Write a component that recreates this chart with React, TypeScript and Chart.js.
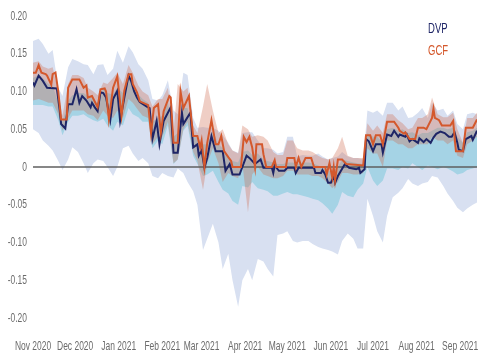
import React, { useEffect, useRef } from 'react';
import { Chart, registerables } from 'chart.js';

Chart.register(...registerables);

// X axis: days since 1 Nov 2020
const monthStartDays = [0, 30, 61, 92, 120, 151, 181, 212, 242, 273, 304];
const monthLabels = ['Nov 2020', 'Dec 2020', 'Jan 2021', 'Feb 2021', 'Mar 2021', 'Apr 2021', 'May 2021', 'Jun 2021', 'Jul 2021', 'Aug 2021', 'Sep 2021'];
const yTickValues = [0.2, 0.15, 0.1, 0.05, 0, -0.05, -0.1, -0.15, -0.2];
const yTickLabels = ['0.20', '0.15', '0.10', '0.05', '0', '-0.05', '-0.10', '-0.15', '-0.20'];
const legendLabels = ['DVP', 'GCF'];

// Band sampling days
const bandDays = [
  0, 4, 7, 11, 14, 18, 21, 25, 28, 32,
  36, 39, 43, 46, 50, 53, 57, 60, 64, 68,
  71, 75, 78, 82, 85, 89, 92, 96, 100, 103,
  107, 110, 114, 117, 121, 124, 128, 132, 135, 139,
  142, 146, 149, 153, 156, 160, 164, 167, 171, 174,
  178, 181, 185, 188, 192, 196, 199, 203, 206, 210,
  213, 217, 220, 224, 228, 231, 235, 238, 242, 245,
  249, 252, 256, 260, 263, 267, 270, 274, 277, 281,
  284, 288, 292, 295, 299, 302, 306, 309, 313, 316,
];

// Wide light band (range)
const lightHigh = [
  0.167, 0.17, 0.163, 0.15, 0.155, 0.105, 0.094, 0.132, 0.143, 0.14,
  0.136, 0.135, 0.123, 0.135, 0.136, 0.122, 0.13, 0.154, 0.138, 0.16,
  0.152, 0.136, 0.13, 0.115, 0.09, 0.088, 0.095, 0.115, 0.075, 0.07,
  0.125, 0.122, 0.065, 0.052, 0.053, 0.052, 0.052, 0.048, 0.042, 0.032,
  0.022, 0.019, 0.045, 0.046, 0.046, 0.035, 0.025, 0.025, 0.023, 0.018,
  0.02, 0.04, 0.04, 0.014, 0.016, 0.015, 0.015, 0.018, 0.014, 0.01,
  0.012, 0.014, 0.02, 0.014, 0.012, 0.012, 0.01, 0.075, 0.072, 0.075,
  0.068, 0.085, 0.085, 0.075, 0.08, 0.065, 0.066, 0.072, 0.078, 0.065,
  0.085, 0.075, 0.077, 0.068, 0.075, 0.057, 0.05, 0.07, 0.072, 0.07,
];
const lightLow = [
  0.05, 0.045, 0.035, 0.028, 0.022, 0.008, -0.004, 0.01, 0.026, 0.02,
  0.005, -0.008, 0.005, 0.01, 0.008, 0, -0.012, 0, 0.025, 0.028,
  0.018, 0.008, 0.012, 0.005, -0.012, -0.015, -0.008, -0.012, -0.014, -0.002,
  -0.008, -0.02, -0.032, -0.05, -0.11, -0.095, -0.075, -0.1, -0.135, -0.115,
  -0.15, -0.185, -0.15, -0.135, -0.15, -0.122, -0.125, -0.135, -0.145, -0.09,
  -0.088, -0.085, -0.098, -0.1, -0.098, -0.098, -0.102, -0.106, -0.108, -0.11,
  -0.112, -0.116, -0.098, -0.088, -0.095, -0.108, -0.108, -0.042, -0.065, -0.085,
  -0.1, -0.065, -0.04, -0.034, -0.028, -0.016, -0.022, -0.025, -0.022, -0.02,
  -0.012, -0.014, -0.025, -0.035, -0.045, -0.054, -0.06, -0.055, -0.05, -0.047,
];

// DVP inner (teal) band
const tealHigh = [
  0.118, 0.122, 0.118, 0.11, 0.108, 0.085, 0.06, 0.088, 0.095, 0.098,
  0.098, 0.094, 0.09, 0.085, 0.104, 0.098, 0.096, 0.105, 0.098, 0.124,
  0.112, 0.096, 0.09, 0.085, 0.06, 0.065, 0.068, 0.085, 0.04, 0.045,
  0.078, 0.078, 0.045, 0.038, 0.03, 0.03, 0.048, 0.03, 0.025, 0.012,
  0.008, 0.006, 0.02, 0.022, 0.016, 0.018, 0.01, 0.008, 0.006, 0.004,
  0.004, 0.006, 0.006, 0.004, 0.006, 0.006, 0.005, 0.002, 0, -0.006,
  -0.004, 0, 0.01, 0.008, 0.006, 0.005, 0.004, 0.045, 0.04, 0.04,
  0.032, 0.05, 0.052, 0.048, 0.05, 0.045, 0.046, 0.042, 0.045, 0.045,
  0.048, 0.052, 0.052, 0.05, 0.052, 0.04, 0.032, 0.046, 0.048, 0.052,
];
const tealLow = [
  0.082, 0.082, 0.082, 0.08, 0.08, 0.062, 0.042, 0.06, 0.068, 0.068,
  0.07, 0.066, 0.062, 0.06, 0.064, 0.055, 0.048, 0.06, 0.055, 0.078,
  0.07, 0.066, 0.06, 0.06, 0.025, 0.035, 0.03, 0.055, 0.004, 0.01,
  0.048, 0.055, 0.015, 0.004, -0.012, -0.01, -0.005, -0.02, -0.03, -0.035,
  -0.045, -0.05, -0.025, -0.027, -0.02, -0.028, -0.03, -0.032, -0.038, -0.038,
  -0.035, -0.033, -0.036, -0.036, -0.038, -0.04, -0.042, -0.044, -0.048, -0.055,
  -0.062, -0.05, -0.033, -0.038, -0.04, -0.03, -0.022, 0, -0.018, -0.025,
  -0.018, -0.002, -0.002, -0.004, 0, -0.002, 0.005, 0, -0.004, 0.002,
  0, -0.003, 0, -0.002, -0.006, -0.01, -0.008, -0.004, -0.002, 0,
];

// GCF (pink) band
const pinkHigh = [
  0.138, 0.14, 0.133, 0.13, 0.132, 0.1, 0.068, 0.11, 0.122, 0.122,
  0.118, 0.105, 0.1, 0.095, 0.112, 0.11, 0.118, 0.125, 0.11, 0.135,
  0.125, 0.108, 0.1, 0.095, 0.08, 0.09, 0.09, 0.105, 0.045, 0.11,
  0.1, 0.105, 0.055, 0.045, 0.08, 0.11, 0.075, 0.045, 0.05, 0.03,
  0.022, 0.018, 0.055, 0.05, 0.04, 0.042, 0.04, 0.035, 0.02, 0.016,
  0.016, 0.035, 0.035, 0.025, 0.022, 0.022, 0.02, 0.015, 0.012, 0.01,
  0.012, 0.025, 0.04, 0.015, 0.012, 0.012, 0.012, 0.058, 0.048, 0.055,
  0.045, 0.07, 0.07, 0.062, 0.058, 0.05, 0.052, 0.065, 0.065, 0.07,
  0.092, 0.07, 0.066, 0.066, 0.072, 0.05, 0.032, 0.065, 0.065, 0.072,
];
const pinkLow = [
  0.088, 0.09, 0.088, 0.085, 0.085, 0.07, 0.048, 0.065, 0.075, 0.075,
  0.075, 0.07, 0.068, 0.062, 0.075, 0.068, 0.065, 0.075, 0.065, 0.09,
  0.085, 0.075, 0.068, 0.065, 0.03, 0.04, 0.04, 0.06, 0.005, 0.01,
  0.05, 0.06, 0.02, 0.008, -0.03, 0.005, 0.025, 0.005, -0.02, -0.008,
  -0.012, -0.015, 0.005, -0.06, -0.01, 0, -0.01, -0.012, -0.015, -0.015,
  -0.012, -0.005, -0.005, -0.01, -0.01, -0.01, -0.012, -0.012, -0.015, -0.022,
  -0.028, -0.02, -0.008, -0.008, -0.01, -0.01, -0.008, 0.025, 0.018, 0.018,
  0, 0.035, 0.035, 0.03, 0.03, 0.025, 0.025, 0.03, 0.03, 0.03,
  0.04, 0.035, 0.035, 0.03, 0.035, 0.015, 0.012, 0.03, 0.035, 0.04,
];

// DVP line
const dvpDays = [
  0, 1, 4, 7, 10, 17, 19, 20, 23, 25, 28, 31, 33, 35, 38, 41, 42, 44, 46, 48,
  50, 52, 55, 57, 60, 62, 65, 68, 70, 72, 74, 76, 81, 83, 85, 88, 90, 93, 98, 100,
  103, 106, 107, 112, 114, 117, 118, 120, 122, 124, 127, 130, 135, 137, 140, 142, 147, 152, 154, 158,
  162, 164, 170, 171, 172, 175, 179, 181, 186, 187, 189, 200, 201, 205, 206, 208, 210, 212, 214, 215,
  217, 222, 225, 230, 232, 233, 236, 237, 239, 242, 244, 248, 249, 252, 255, 257, 260, 261, 265, 266,
  268, 270, 274, 275, 278, 280, 283, 285, 287, 290, 293, 296, 298, 300, 302, 303, 306, 308, 312, 313,
  316,
];
const dvpValues = [
  0.112, 0.108, 0.121, 0.114, 0.105, 0.104, 0.075, 0.057, 0.051, 0.083, 0.083, 0.103, 0.085, 0.094, 0.088, 0.079, 0.085, 0.079, 0.074, 0.099,
  0.098, 0.092, 0.062, 0.09, 0.101, 0.061, 0.092, 0.121, 0.113, 0.1, 0.092, 0.086, 0.08, 0.078, 0.037, 0.061, 0.03, 0.061, 0.079, 0.019,
  0.019, 0.072, 0.057, 0.072, 0.026, 0.03, 0.015, 0.022, -0.001, 0.012, 0.041, 0.021, 0.021, -0.005, 0.004, -0.01, -0.01, 0.015, 0.012, 0.004,
  0.01, -0.001, -0.001, -0.008, 0.002, -0.005, -0.005, -0.001, -0.001, -0.008, -0.001, -0.001, -0.008, -0.008, -0.004, -0.01, -0.021, -0.021, -0.012, -0.021,
  -0.012, 0.004, -0.001, -0.003, -0.001, -0.008, -0.003, 0.037, 0.034, 0.021, 0.03, 0.03, 0.019, 0.043, 0.041, 0.048, 0.04, 0.043, 0.04, 0.043,
  0.034, 0.037, 0.032, 0.038, 0.033, 0.037, 0.032, 0.039, 0.044, 0.047, 0.045, 0.04, 0.04, 0.046, 0.032, 0.023, 0.021, 0.037, 0.041, 0.036,
  0.048,
];

// GCF line
const gcfDays = [
  0, 2, 4, 6, 9, 10, 13, 14, 16, 18, 20, 24, 25, 28, 33, 36, 38, 39, 42, 46,
  48, 51, 52, 54, 57, 60, 63, 65, 68, 70, 71, 74, 76, 82, 84, 86, 89, 91, 93, 97,
  98, 100, 103, 105, 107, 111, 114, 117, 119, 120, 122, 124, 127, 130, 132, 134, 136, 139, 141, 142,
  148, 150, 152, 154, 156, 158, 159, 163, 164, 166, 170, 172, 173, 180, 181, 186, 187, 189, 191, 194,
  198, 200, 208, 209, 211, 213, 214, 215, 217, 220, 223, 235, 237, 240, 242, 244, 247, 249, 252, 257,
  260, 261, 264, 265, 268, 272, 274, 278, 280, 284, 285, 286, 289, 291, 297, 299, 301, 306, 308, 313,
  316,
];
const gcfValues = [
  0.125, 0.125, 0.135, 0.125, 0.123, 0.121, 0.109, 0.123, 0.125, 0.1, 0.063, 0.063, 0.105, 0.116, 0.116, 0.105, 0.108, 0.092, 0.094, 0.079,
  0.103, 0.104, 0.1, 0.063, 0.105, 0.12, 0.068, 0.101, 0.123, 0.123, 0.11, 0.099, 0.087, 0.082, 0.045, 0.078, 0.083, 0.045, 0.074, 0.094,
  0.092, 0.032, 0.032, 0.1, 0.078, 0.094, 0.041, 0.041, 0.026, 0.035, 0, 0.032, 0.062, 0.03, 0.03, 0.041, 0.021, 0.013, 0.008, 0,
  0, 0.04, 0.033, 0.04, 0.026, 0, 0.03, 0.03, 0.017, 0, 0, 0.009, 0, 0, 0.012, 0.012, 0, 0.012, 0, 0.012,
  0.012, 0, 0, -0.01, 0.005, -0.014, 0, -0.018, 0.01, 0.01, 0.004, 0.002, 0.042, 0.042, 0.03, 0.042, 0.042, 0.03, 0.06, 0.06,
  0.052, 0.048, 0.044, 0.046, 0.037, 0.037, 0.052, 0.052, 0.05, 0.065, 0.077, 0.065, 0.062, 0.055, 0.055, 0.061, 0.021, 0.021, 0.052, 0.052,
  0.063,
];

const NAVY = '#1e2566';
const ORANGE = '#d4582c';
const LIGHT = '#d8e0f1';
const TEAL = '#a5d3e5';
const PINK = 'rgba(205, 105, 80, 0.33)';
const TICK_COLOR = '#6b6b6b';
const FONT = '"Liberation Sans", Arial, sans-serif';

function pts(xs: number[], ys: number[]) {
  return xs.map((x, i) => ({ x, y: ys[i] }));
}

function condensedText(ctx: CanvasRenderingContext2D, text: string, x: number, y: number, align: CanvasTextAlign, squeeze: number) {
  ctx.save();
  ctx.translate(x, y);
  ctx.scale(squeeze, 1);
  ctx.textAlign = align;
  ctx.fillText(text, 0, 0);
  ctx.restore();
}

export default function App() {
  const ref = useRef<HTMLCanvasElement>(null);

  useEffect(() => {
    document.body.style.margin = '0';
    if (!ref.current) return;
    const band = (data: any, fill: any, color: string) => ({
      data,
      fill,
      backgroundColor: color,
      borderColor: 'rgba(0,0,0,0)',
      borderWidth: 0,
      pointRadius: 0,
      tension: 0,
    });
    const labelsPlugin = {
      id: 'condensedLabels',
      afterDraw(chart: any) {
        const c: CanvasRenderingContext2D = chart.ctx;
        const xs = chart.scales.x;
        const ys = chart.scales.y;
        c.save();
        c.font = `13px ${FONT}`;
        c.textBaseline = 'middle';
        c.fillStyle = TICK_COLOR;
        yTickValues.forEach((v, i) => {
          condensedText(c, yTickLabels[i], chart.chartArea.left - 6, ys.getPixelForValue(v), 'right', 0.65);
        });
        monthStartDays.forEach((d, i) => {
          condensedText(c, monthLabels[i], xs.getPixelForValue(d), chart.chartArea.bottom + 28, 'center', 0.65);
        });
        c.font = `14px ${FONT}`;
        c.textBaseline = 'alphabetic';
        c.fillStyle = NAVY;
        condensedText(c, legendLabels[0], 428, 33, 'left', 0.68);
        c.fillStyle = ORANGE;
        condensedText(c, legendLabels[1], 428, 55, 'left', 0.68);
        c.restore();
      },
    };
    const chart = new Chart(ref.current, {
      type: 'line',
      data: {
        datasets: [
          { label: 'GCF', data: pts(gcfDays, gcfValues), borderColor: ORANGE, borderWidth: 2, pointRadius: 0, fill: false, tension: 0 },
          { label: 'DVP', data: pts(dvpDays, dvpValues), borderColor: NAVY, borderWidth: 2, pointRadius: 0, fill: false, tension: 0 },
          { label: 'zero', data: [{ x: 0, y: 0 }, { x: 316, y: 0 }], borderColor: '#5f5f5f', borderWidth: 1.5, pointRadius: 0, fill: false },
          band(pts(bandDays, pinkHigh), 4, PINK),
          band(pts(bandDays, pinkLow), false, PINK),
          band(pts(bandDays, tealHigh), 6, TEAL),
          band(pts(bandDays, tealLow), false, TEAL),
          band(pts(bandDays, lightHigh), 8, LIGHT),
          band(pts(bandDays, lightLow), false, LIGHT),
        ] as any,
      },
      options: {
        responsive: false,
        animation: false,
        devicePixelRatio: 1,
        layout: { padding: { top: 16, right: 3, left: 0, bottom: 0 } },
        plugins: { legend: { display: false }, tooltip: { enabled: false }, filler: { propagate: false } },
        elements: { point: { radius: 0 } },
        scales: {
          x: {
            type: 'linear',
            min: 0,
            max: 316,
            grid: { display: false, drawTicks: false },
            border: { display: false },
            ticks: { display: false },
            afterFit: (axis: any) => {
              axis.height = 42;
            },
          },
          y: {
            type: 'linear',
            min: -0.2,
            max: 0.2,
            grid: { display: false, drawTicks: false },
            border: { display: false },
            ticks: { display: false, stepSize: 0.05 },
            afterFit: (axis: any) => {
              axis.width = 33;
            },
          },
        },
      } as any,
      plugins: [labelsPlugin],
    });
    return () => chart.destroy();
  }, []);

  return (
    <div style={{ width: 480, height: 360 }}>
      <canvas ref={ref} width={480} height={360} />
    </div>
  );
}
